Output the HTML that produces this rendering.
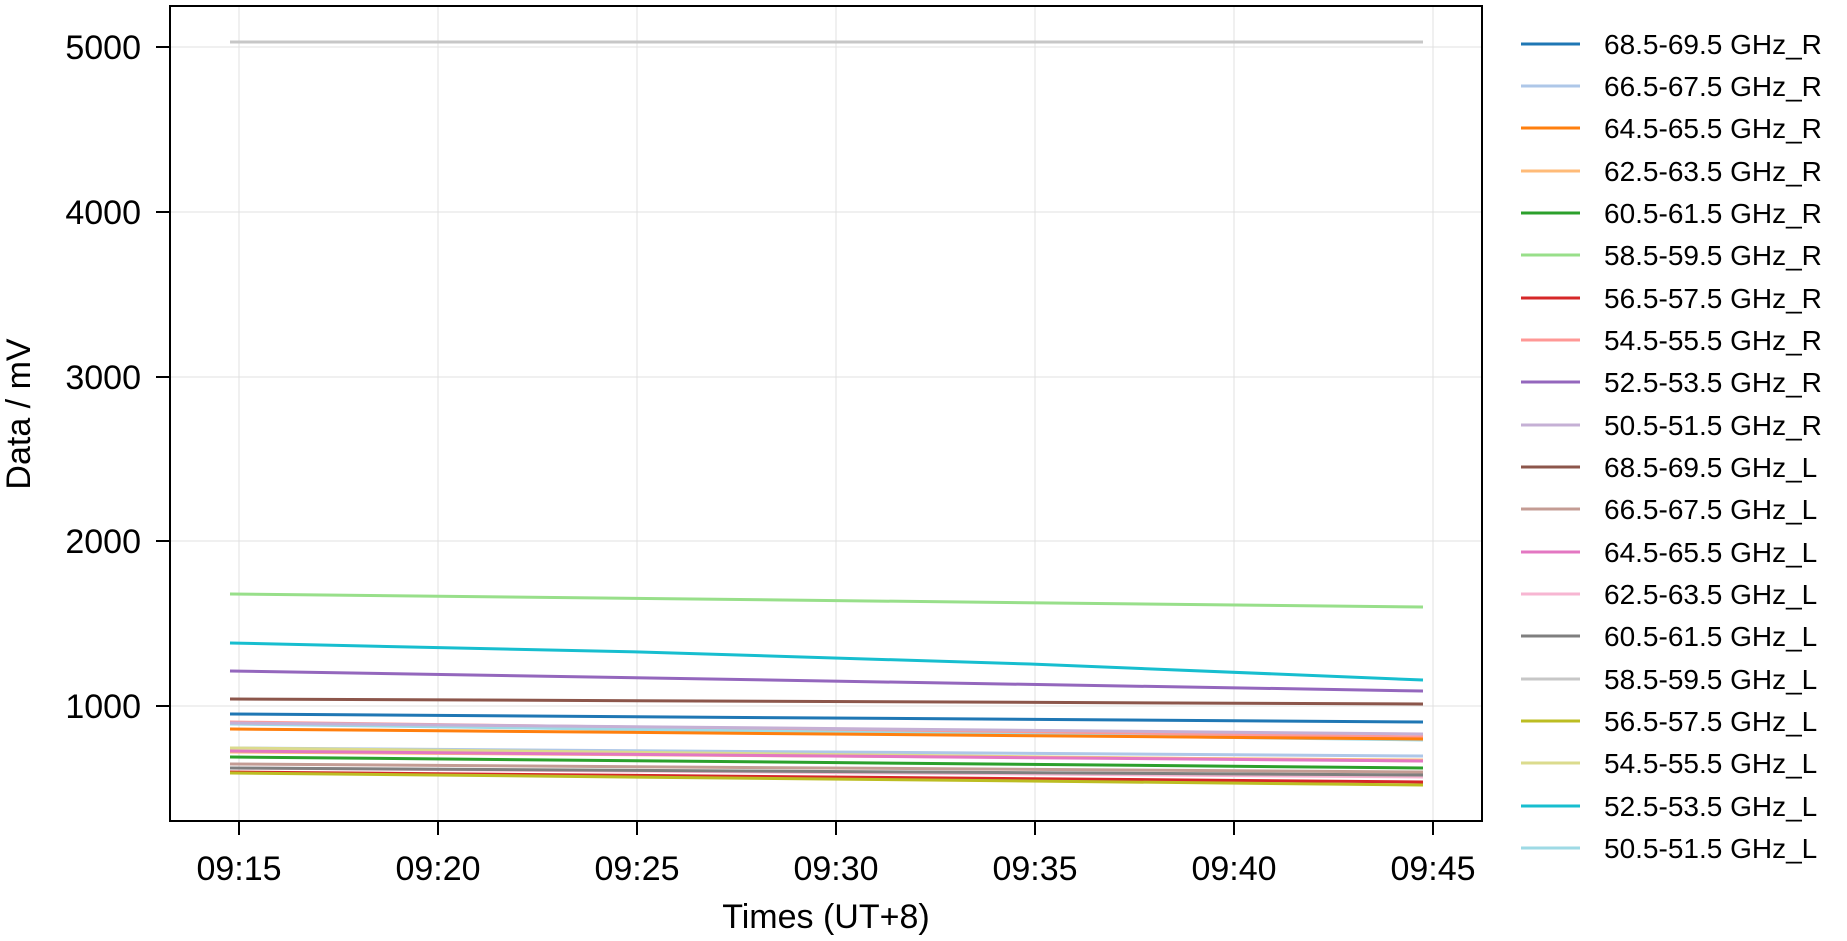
<!DOCTYPE html>
<html><head><meta charset="utf-8"><style>
html,body{margin:0;padding:0;background:#fff;}
svg{display:block;font-family:"Liberation Sans",Arial,sans-serif;}
</style></head><body>
<svg width="1847" height="941" viewBox="0 0 1847 941" xmlns="http://www.w3.org/2000/svg">
<rect width="1847" height="941" fill="#fff"/>
<g stroke="#e0e0e0" stroke-width="1">
<line x1="239" y1="6" x2="239" y2="821"/><line x1="438" y1="6" x2="438" y2="821"/><line x1="637" y1="6" x2="637" y2="821"/><line x1="836" y1="6" x2="836" y2="821"/><line x1="1035" y1="6" x2="1035" y2="821"/><line x1="1234" y1="6" x2="1234" y2="821"/><line x1="1433" y1="6" x2="1433" y2="821"/>
<line x1="170" y1="47" x2="1482" y2="47"/><line x1="170" y1="212" x2="1482" y2="212"/><line x1="170" y1="377" x2="1482" y2="377"/><line x1="170" y1="541" x2="1482" y2="541"/><line x1="170" y1="706" x2="1482" y2="706"/>
</g>
<g fill="none" stroke-width="3">
<path d="M230 42 L1423 42" stroke="#c7c7c7"/>
<path d="M230 594 L1423 607" stroke="#98df8a"/>
<path d="M230 643 L640 652 L1030 664 L1423 680" stroke="#17becf"/>
<path d="M230 671 L1423 691" stroke="#9467bd"/>
<path d="M230 699 L1423 704" stroke="#8c564b"/>
<path d="M230 722 L1423 737" stroke="#ff9896"/>
<path d="M230 724 L1423 740" stroke="#9edae5"/>
<path d="M230 714 L1423 722" stroke="#1f77b4"/>
<path d="M230 723 L1423 734" stroke="#c5b0d5"/>
<path d="M230 729 L1423 739" stroke="#ff7f0e"/>
<path d="M230 748 L1423 756" stroke="#aec7e8"/>
<path d="M230 748 L1423 761" stroke="#dbdb8d"/>
<path d="M230 752 L1423 760" stroke="#ffbb78"/>
<path d="M230 751 L1423 761" stroke="#e377c2"/>
<path d="M230 757 L1423 768" stroke="#2ca02c"/>
<path d="M230 764 L1423 772" stroke="#c49c94"/>
<path d="M230 768 L1423 777" stroke="#f7b6d2"/>
<path d="M230 768 L1423 775" stroke="#7f7f7f"/>
<path d="M230 772 L1423 782" stroke="#d62728"/>
<path d="M230 773 L1423 785" stroke="#bcbd22"/>
</g>
<rect x="170" y="6" width="1312" height="815" fill="none" stroke="#000" stroke-width="2"/>
<g stroke="#000" stroke-width="2">
<line x1="239" y1="821" x2="239" y2="835"/><line x1="438" y1="821" x2="438" y2="835"/><line x1="637" y1="821" x2="637" y2="835"/><line x1="836" y1="821" x2="836" y2="835"/><line x1="1035" y1="821" x2="1035" y2="835"/><line x1="1234" y1="821" x2="1234" y2="835"/><line x1="1433" y1="821" x2="1433" y2="835"/>
<line x1="156" y1="47" x2="170" y2="47"/><line x1="156" y1="212" x2="170" y2="212"/><line x1="156" y1="377" x2="170" y2="377"/><line x1="156" y1="541" x2="170" y2="541"/><line x1="156" y1="706" x2="170" y2="706"/>
</g>
<g font-size="34" fill="#000" text-anchor="middle">
<text x="239" y="880">09:15</text><text x="438" y="880">09:20</text><text x="637" y="880">09:25</text><text x="836" y="880">09:30</text><text x="1035" y="880">09:35</text><text x="1234" y="880">09:40</text><text x="1433" y="880">09:45</text>
<text x="826" y="928">Times (UT+8)</text>
<text transform="translate(30,414) rotate(-90)">Data / mV</text>
</g>
<g font-size="34" fill="#000" text-anchor="end">
<text x="141" y="59">5000</text><text x="141" y="224">4000</text><text x="141" y="389">3000</text><text x="141" y="553">2000</text><text x="141" y="718">1000</text>
</g>
<g stroke-width="3">
<line x1="1521" y1="44" x2="1580" y2="44" stroke="#1f77b4"/>
<line x1="1521" y1="86" x2="1580" y2="86" stroke="#aec7e8"/>
<line x1="1521" y1="128" x2="1580" y2="128" stroke="#ff7f0e"/>
<line x1="1521" y1="171" x2="1580" y2="171" stroke="#ffbb78"/>
<line x1="1521" y1="213" x2="1580" y2="213" stroke="#2ca02c"/>
<line x1="1521" y1="255" x2="1580" y2="255" stroke="#98df8a"/>
<line x1="1521" y1="298" x2="1580" y2="298" stroke="#d62728"/>
<line x1="1521" y1="340" x2="1580" y2="340" stroke="#ff9896"/>
<line x1="1521" y1="382" x2="1580" y2="382" stroke="#9467bd"/>
<line x1="1521" y1="425" x2="1580" y2="425" stroke="#c5b0d5"/>
<line x1="1521" y1="467" x2="1580" y2="467" stroke="#8c564b"/>
<line x1="1521" y1="509" x2="1580" y2="509" stroke="#c49c94"/>
<line x1="1521" y1="552" x2="1580" y2="552" stroke="#e377c2"/>
<line x1="1521" y1="594" x2="1580" y2="594" stroke="#f7b6d2"/>
<line x1="1521" y1="636" x2="1580" y2="636" stroke="#7f7f7f"/>
<line x1="1521" y1="679" x2="1580" y2="679" stroke="#c7c7c7"/>
<line x1="1521" y1="721" x2="1580" y2="721" stroke="#bcbd22"/>
<line x1="1521" y1="763" x2="1580" y2="763" stroke="#dbdb8d"/>
<line x1="1521" y1="806" x2="1580" y2="806" stroke="#17becf"/>
<line x1="1521" y1="848" x2="1580" y2="848" stroke="#9edae5"/>
</g>
<g font-size="28" fill="#000">
<text x="1604" y="54">68.5-69.5 GHz_R</text>
<text x="1604" y="96">66.5-67.5 GHz_R</text>
<text x="1604" y="138">64.5-65.5 GHz_R</text>
<text x="1604" y="181">62.5-63.5 GHz_R</text>
<text x="1604" y="223">60.5-61.5 GHz_R</text>
<text x="1604" y="265">58.5-59.5 GHz_R</text>
<text x="1604" y="308">56.5-57.5 GHz_R</text>
<text x="1604" y="350">54.5-55.5 GHz_R</text>
<text x="1604" y="392">52.5-53.5 GHz_R</text>
<text x="1604" y="435">50.5-51.5 GHz_R</text>
<text x="1604" y="477">68.5-69.5 GHz_L</text>
<text x="1604" y="519">66.5-67.5 GHz_L</text>
<text x="1604" y="562">64.5-65.5 GHz_L</text>
<text x="1604" y="604">62.5-63.5 GHz_L</text>
<text x="1604" y="646">60.5-61.5 GHz_L</text>
<text x="1604" y="689">58.5-59.5 GHz_L</text>
<text x="1604" y="731">56.5-57.5 GHz_L</text>
<text x="1604" y="773">54.5-55.5 GHz_L</text>
<text x="1604" y="816">52.5-53.5 GHz_L</text>
<text x="1604" y="858">50.5-51.5 GHz_L</text>
</g>
</svg>
</body></html>
